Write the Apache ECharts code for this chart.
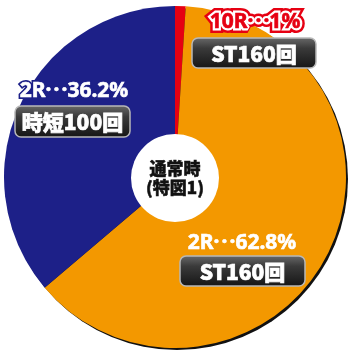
<!DOCTYPE html>
<html><head><meta charset="utf-8">
<script src="https://cdn.jsdelivr.net/npm/echarts@6/dist/echarts.min.js"></script>
<style>html,body{margin:0;padding:0;background:#fff}#c{width:350px;height:355px}</style>
</head><body><div id="c"></div>
<script>
const categories = ['10R·\u200a·\u200a·1%', '2R·\u200a·\u200a·62.8%', '2R·\u200a·\u200a·36.2%'];
const values = [1, 62.8, 36.2];
const subLabels = ['ST160回', 'ST160回', '時短100回'];
const centerLabel = ['通常時', '(特図1)'];
const colors = ['#e60012', '#f39800', '#1d2088'];

const FONT = '"Noto Sans CJK JP", "Noto Sans", sans-serif';
const HFONT = '"Noto Sans", "Noto Sans CJK JP", sans-serif';
const chart = echarts.init(document.getElementById('c'), null, {renderer: 'canvas'});

function headline(x, y, txt, fill, stroke, outer) {
  const f = 'bold 21px ' + HFONT;
  const els = [];
  if (outer) {
    els.push({type: 'text', x: x, y: y, z: 10, style: {text: txt, x: 0, y: 0, align: 'center', verticalAlign: 'middle',
      font: f, fill: outer, stroke: outer, lineWidth: 10, lineJoin: 'round'}});
    els.push({type: 'text', x: x, y: y, z: 11, style: {text: txt, x: 0, y: 0, align: 'center', verticalAlign: 'middle',
      font: f, fill: '#fff', stroke: '#fff', lineWidth: 5, lineJoin: 'round'}});
    els.push({type: 'text', x: x, y: y, z: 12, style: {text: txt, x: 0, y: 0, align: 'center', verticalAlign: 'middle',
      font: f, fill: fill, stroke: fill, lineWidth: 0.6}});
  } else {
    els.push({type: 'text', x: x, y: y, z: 11, style: {text: txt, x: 0, y: 0, align: 'center', verticalAlign: 'middle',
      font: f, fill: stroke, stroke: stroke, lineWidth: 4, lineJoin: 'round'}});
    els.push({type: 'text', x: x, y: y, z: 12, style: {text: txt, x: 0, y: 0, align: 'center', verticalAlign: 'middle',
      font: f, fill: fill, stroke: fill, lineWidth: 0.6}});
  }
  return els;
}
function box(x, y, w, h, txt) {
  return [
    {type: 'rect', x: x, y: y, z: 10, shape: {x: 0, y: 0, width: w, height: h, r: 6},
      style: {fill: new echarts.graphic.LinearGradient(0, 0, 0, 1, [
        {offset: 0, color: '#6a6a6a'}, {offset: 0.35, color: '#3a3a3a'}, {offset: 1, color: '#151515'}]),
        stroke: '#b8b8b8', lineWidth: 1.5}},
    {type: 'text', x: x + w / 2, y: y + h / 2 + 1, z: 11, style: {text: txt, x: 0, y: 0, align: 'center', verticalAlign: 'middle',
      font: '900 21px ' + FONT, fill: '#ffffff', stroke: '#ffffff', lineWidth: 0.7}}
  ];
}

const graphics = [].concat(
  headline(255, 22, categories[0], colors[0], '#ffffff', colors[0]),
  box(192, 38, 124, 30, subLabels[0]),
  headline(242, 243, categories[1], '#ffffff', colors[1], null),
  box(180, 256, 125, 30, subLabels[1]),
  headline(74, 91, categories[2], '#ffffff', colors[2], null),
  box(15, 106, 115, 31, subLabels[2])
);

chart.setOption({
  animation: false,
  series: [
    {type: 'pie', center: [177, 179], radius: [0, 171], silent: true, z: 1,
      label: {show: false}, labelLine: {show: false},
      itemStyle: {color: '#111'}, data: [{value: 1, name: 'shadow'}]},
    {type: 'pie', center: [175, 177], radius: [0, 171], startAngle: 90, clockwise: true, z: 2,
      label: {show: false}, labelLine: {show: false},
      itemStyle: {borderWidth: 0},
      data: categories.map((c, i) => ({name: c, value: values[i], itemStyle: {color: colors[i]}}))},
    {type: 'pie', center: [175, 178], radius: [0, 44], silent: true, z: 3,
      itemStyle: {color: '#ffffff'},
      label: {show: true, position: 'center', formatter: centerLabel.join('\n'),
        fontFamily: FONT, fontWeight: 900, fontSize: 17, lineHeight: 19, color: '#111',
        textBorderColor: '#111', textBorderWidth: 0.5},
      labelLine: {show: false},
      data: [{value: 1, name: 'center'}]}
  ],
  graphic: graphics
});
</script></body></html>
